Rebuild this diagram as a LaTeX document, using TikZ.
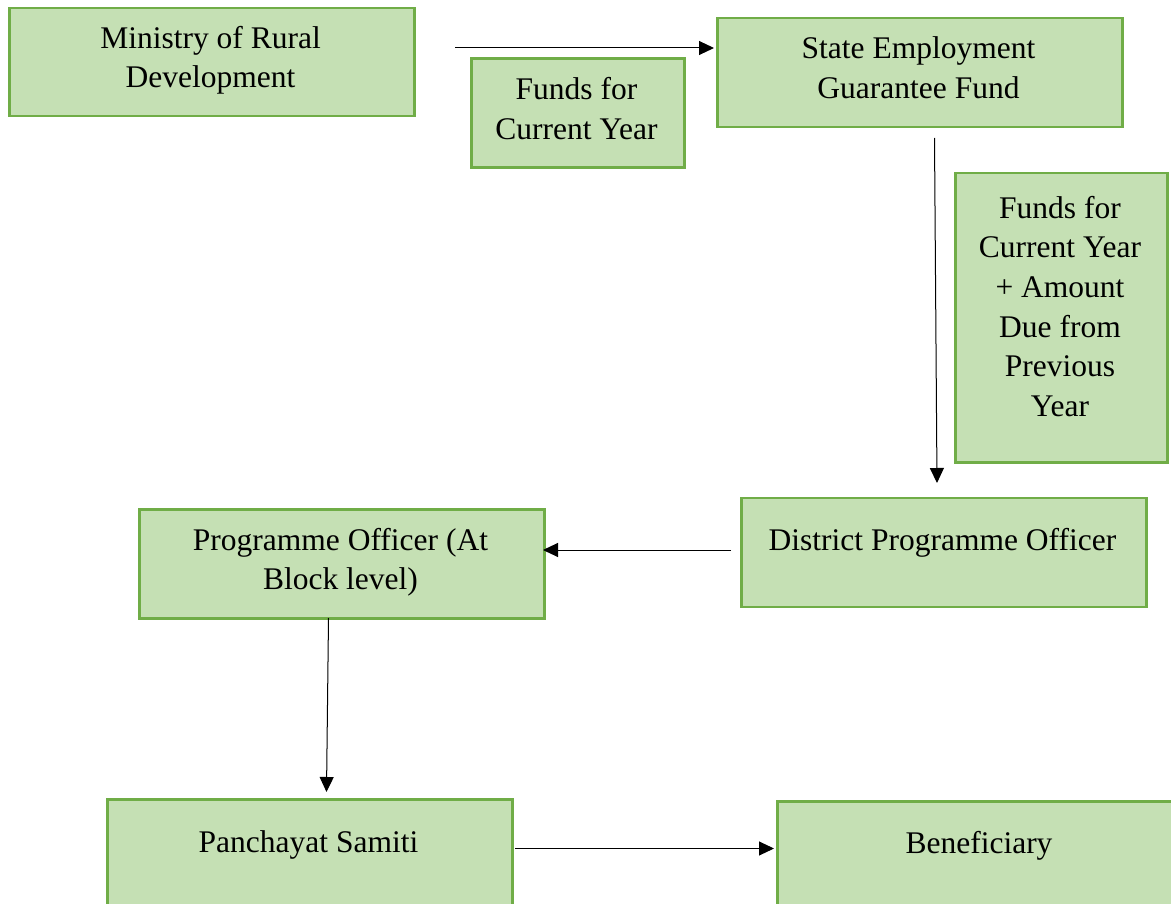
\documentclass[tikz,border=0pt]{standalone}
\usepackage{fontspec}
\setmainfont{Liberation Serif}
\usetikzlibrary{arrows.meta}
\definecolor{boxfill}{HTML}{C5E0B4}
\definecolor{boxline}{HTML}{70AD47}
\tikzset{
  box/.style={draw=boxline, fill=boxfill, line width=2.5pt, rectangle, anchor=north west, inner sep=0pt},
  txt/.style={align=center, inner sep=0pt, font=\fontsize{31.5}{39.7}\selectfont},
  flow/.style={line width=1pt, -{Triangle[length=15pt,width=14pt]}}
}
\begin{document}
\begin{tikzpicture}[x=1pt,y=-1pt]
\useasboundingbox (0,0) rectangle (1171,904);
\clip (0,0) rectangle (1171,904);
% boxes
\node[box, minimum width=405pt, minimum height=108pt] (mrd) at (8,7) {};
\node[box, minimum width=213pt, minimum height=109pt] (fcy) at (470,57.5) {};
\node[box, minimum width=405pt, minimum height=109pt] (segf) at (716,17) {};
\node[box, minimum width=212pt, minimum height=289pt] (fcyp) at (954,172) {};
\node[box, minimum width=405pt, minimum height=109pt] (dpo) at (740,496.5) {};
\node[box, minimum width=405pt, minimum height=109pt] (po) at (138,508) {};
\node[box, minimum width=405pt, minimum height=140pt] (ps) at (106,798) {};
\node[box, minimum width=406pt, minimum height=140pt] (ben) at (776,800) {};
% texts
\node[txt] (mrdt) at (210.5,60) {\strut Ministry of Rural\\\strut Development};
\node[txt] (fcyt) at (576.5,111.5) {\strut Funds for\\\strut Current Year};
\node[txt] (segft) at (918.5,70.5) {\strut State Employment\\\strut Guarantee Fund};
\node[txt] (fcypt) at (1060,309.5) {\strut Funds for\\\strut Current Year\\\strut + Amount\\\strut Due from\\\strut Previous\\\strut Year};
\node[txt] (dpot) at (942.5,542.5) {\strut District Programme Officer};
\node[txt] (pot) at (340.5,562) {\strut Programme Officer (At\\\strut Block level)};
\node[txt] (pst) at (308.5,844.5) {\strut Panchayat Samiti};
\node[txt] (bent) at (979,845.5) {\strut Beneficiary};
% connector ends
\coordinate (a1s) at (455,48);
\coordinate (a1e) at (714,48);
\coordinate (a2s) at (934.5,138);
\coordinate (a2e) at (937,483);
\coordinate (a3s) at (731,550);
\coordinate (a3e) at (543,550);
\coordinate (a4s) at (328.5,618);
\coordinate (a4e) at (326.5,792);
\coordinate (a5s) at (515,848.5);
\coordinate (a5e) at (774,848.5);
\draw[flow] (a1s) -- (a1e);
\draw[flow] (a2s) -- (a2e);
\draw[flow] (a3s) -- (a3e);
\draw[flow] (a4s) -- (a4e);
\draw[flow] (a5s) -- (a5e);
\end{tikzpicture}
\end{document}
